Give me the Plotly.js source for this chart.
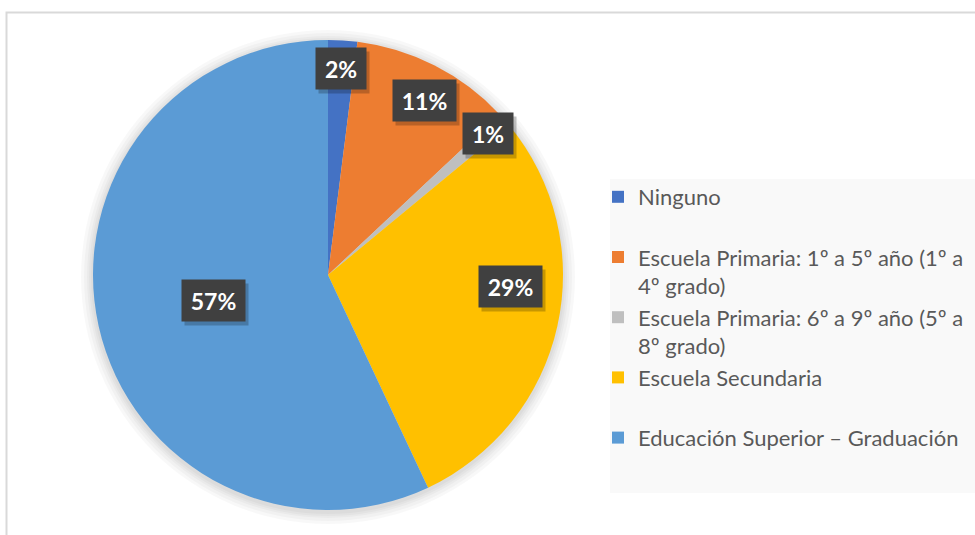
<!DOCTYPE html>
<html>
<head>
<meta charset="utf-8">
<script src="https://cdn.plot.ly/plotly-3.0.1.min.js"></script>
<style>
  html, body { margin: 0; padding: 0; background: #ffffff; }
  #eduPie { width: 975px; height: 535px; }
</style>
</head>
<body>
<div id="eduPie"></div>
<script>
let eduPie = document.getElementById("eduPie");

// Nivel educativo (porcentaje de respuestas)
let levelNames = [
  "Ninguno<br> ",
  "Escuela Primaria: 1º a 5º año (1º a<br>4º grado)",
  "Escuela Primaria: 6º a 9º año (5º a<br>8º grado)",
  "Escuela Secundaria<br> ",
  "Educación Superior – Graduación<br> "
];
let levelValues = [2, 11, 1, 29, 57];
let levelColors = ["#4472C4", "#ED7D31", "#BFBFBF", "#FFC000", "#5B9BD5"];

function makeEduPie(plotDiv) {
  let W = 975, H = 535;
  // pie geometry in pixels
  let cx = 328, cy = 275, R = 235;

  let trace1 = {
    type: 'pie',
    labels: levelNames,
    values: levelValues,
    sort: false,
    direction: 'clockwise',
    rotation: 0,
    textinfo: 'none',
    hoverinfo: 'label+percent',
    marker: {
      colors: levelColors,
      line: { width: 0 }
    },
    domain: {
      x: [(cx - R) / W, (cx + R) / W],
      y: [(H - cy - R) / H, (H - cy + R) / H]
    }
  };

  // data labels: dark boxes placed near each slice's mid angle
  let labelRadius = [0.88, 0.85, 0.91, 0.78, 0.5];
  let labelTurn = [0, 2, 0, -9, 0];
  let total = levelValues.reduce((a, b) => a + b, 0);
  let annotations = [];
  let cum = 0;
  levelValues.forEach((v, i) => {
    let mid = (cum + v / 2) / total * 360 + labelTurn[i];
    cum += v;
    let a = mid * Math.PI / 180;
    let px = cx + labelRadius[i] * R * Math.sin(a);
    let py = cy - labelRadius[i] * R * Math.cos(a);
    let pct = Math.round(v / total * 100) + '%';
    let base = {
      xref: 'paper', yref: 'paper',
      x: px / W, y: 1 - py / H,
      xanchor: 'center', yanchor: 'middle',
      showarrow: false,
      borderpad: 0,
      width: pct.length > 2 ? 63 : 50,
      height: 41
    };
    // soft shadow
    annotations.push(Object.assign({}, base, {
      text: '\u00a0',
      xshift: 3, yshift: -4,
      bgcolor: 'rgba(0,0,0,0.22)',
      font: { family: 'Lato, sans-serif', size: 10, color: 'rgba(0,0,0,0)' }
    }));
    annotations.push(Object.assign({}, base, {
      text: '<b>' + pct + '</b>',
      bgcolor: '#404040',
      font: { family: 'Lato, sans-serif', size: 23, color: '#ffffff' }
    }));
  });

  let shapes = [
    // legend background
    {
      type: 'rect', xref: 'paper', yref: 'paper', layer: 'below',
      x0: 610 / W, x1: 1.01, y0: 1 - 493 / H, y1: 1 - 179 / H,
      fillcolor: '#f9f9f9', line: { width: 0 }
    },
    // chart area border
    {
      type: 'rect', xref: 'paper', yref: 'paper', layer: 'below',
      x0: 6.5 / W, x1: 1.05, y0: -0.05, y1: 1 - 12.5 / H,
      line: { color: '#d9d9d9', width: 2 }
    }
  ];
  // soft halo around the pie
  [12, 9, 6, 4, 2].forEach(d => {
    shapes.push({
      type: 'circle', xref: 'paper', yref: 'paper', layer: 'below',
      x0: (cx - R - d) / W, x1: (cx + R + d) / W,
      y0: 1 - (cy + R + d + 2) / H, y1: 1 - (cy - R - d + 2) / H,
      fillcolor: 'rgba(0,0,0,0.028)', line: { width: 0 }
    });
  });

  let layout = {
    width: W,
    height: H,
    margin: { l: 0, r: 0, t: 0, b: 0 },
    paper_bgcolor: '#ffffff',
    showlegend: true,
    legend: {
      x: 598 / W,
      y: 1 - 176 / H,
      xanchor: 'left',
      yanchor: 'top',
      valign: 'top',
      bgcolor: 'rgba(0,0,0,0)',
      font: { family: 'Lato, sans-serif', size: 22, color: '#595959' },
      traceorder: 'normal'
    },
    annotations: annotations,
    shapes: shapes
  };

  let config = { responsive: false, displayModeBar: false };

  Plotly.newPlot(plotDiv, [trace1], layout, config);
}

makeEduPie(eduPie);
</script>
</body>
</html>
